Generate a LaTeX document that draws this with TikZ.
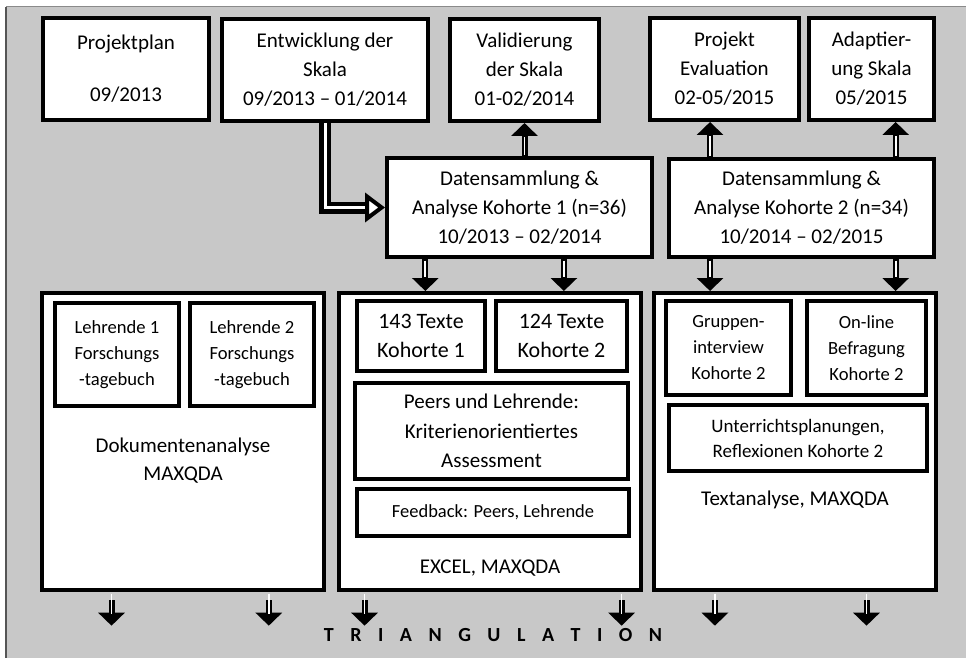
\documentclass[tikz,border=0pt]{standalone}
\usepackage{fontspec}
\setmainfont{Carlito}
\usetikzlibrary{arrows.meta,positioning,calc}
\definecolor{panel}{HTML}{C8C8C8}
\definecolor{rimdark}{HTML}{555555}
\definecolor{rimlight}{HTML}{8A8A8A}
\tikzset{
  boxsize/.style 2 args={minimum width=#1, minimum height=#2},
  phasebox/.style={draw, line width=4pt, fill=white, align=center, inner sep=1pt,
    font=\fontsize{21}{29}\selectfont},
  groupbox/.style={draw, line width=4pt, fill=white},
  sourcebox/.style={draw, line width=3.5pt, fill=white, align=center, inner sep=1pt,
    font=\fontsize{18.6}{26}\selectfont},
  grouplabel/.style={align=center, font=\fontsize{21}{28}\selectfont},
  blockarrow/.style={line width=6pt, -{Triangle[length=13pt, width=26pt]},
    postaction={draw=white, line width=1.8pt, -, shorten >=14pt, shorten <=1.5pt}},
  bigarrow/.style={line width=4.5pt, double=white, double distance=3pt,
    -{Triangle[open, length=20pt, width=29pt, line width=4pt, fill=white]}},
}

\begin{document}
\begin{tikzpicture}[x=1pt, y=-1pt]
\useasboundingbox (0,0) rectangle (966,658);
\fill[panel] (6,7) rectangle (966,658);
\draw[rimlight, line width=1pt] (6,7) -- (966,7);
\draw[rimdark, line width=1.5pt] (6,7) -- (6,658);

% Phases along the top.
\node[phasebox, boxsize={166pt}{102pt}] (plan) at (126,69) {Projektplan\\[23pt]09/2013};
\node[phasebox, boxsize={206pt}{102pt}] (entw) at (325,70) {Entwicklung der\\Skala\\09/2013 -- 01/2014};
\node[phasebox, boxsize={149pt}{102pt}] (valid) at (524.5,70) {Validierung\\der Skala\\01-02/2014};
\node[phasebox, boxsize={149pt}{102pt}] (eval) at (724.5,69) {Projekt\\Evaluation\\02-05/2015};
\node[phasebox, boxsize={125pt}{102pt}] (adapt) at (871.5,69) {Adaptier-\\ung Skala\\05/2015};

% Data collection per cohort.
\node[phasebox, boxsize={265pt}{99pt}] (dat1) at (519.5,207.5) {Datensammlung \&\\Analyse Kohorte 1 (n=36)\\10/2013 -- 02/2014};
\node[phasebox, boxsize={265pt}{98pt}] (dat2) at (801.5,208) {Datensammlung \&\\Analyse Kohorte 2 (n=34)\\10/2014 -- 02/2015};

% Groups of sources.
\node[groupbox, boxsize={282pt}{297pt}] (docs) at (183,441.5) {};
\node[groupbox, boxsize={302pt}{297pt}] (texts) at (490,441.5) {};
\node[groupbox, boxsize={282pt}{297pt}] (inter) at (795,441.5) {};

\node[sourcebox, boxsize={124pt}{103pt}] (leh1) at (117,354.5) {Lehrende 1\\Forschungs\\-tagebuch};
\node[sourcebox, boxsize={124pt}{103pt}] (leh2) at (252,354.5) {Lehrende 2\\Forschungs\\-tagebuch};
\node[grouplabel] (docslbl) at (183,461) {Dokumentenanalyse\\MAXQDA};

\node[sourcebox, boxsize={128pt}{70pt}, font=\fontsize{22}{29}\selectfont] (tx1) at (421,336) {143 Texte\\Kohorte 1};
\node[sourcebox, boxsize={131pt}{70pt}, font=\fontsize{22}{29}\selectfont] (tx2) at (561.5,336) {124 Texte\\Kohorte 2};
\node[sourcebox, boxsize={273pt}{96pt}, font=\fontsize{21}{29.5}\selectfont] (peers) at (491.5,431) {Peers und Lehrende:\\Kriterienorientiertes\\Assessment};
\node[sourcebox, boxsize={272pt}{47pt}, font=\fontsize{18.5}{22}\selectfont] (feedb) at (493,512.5) {Feedback: Peers, Lehrende};
\node[grouplabel] (textslbl) at (490,568) {EXCEL, MAXQDA};

\node[sourcebox, boxsize={125pt}{94pt}] (grp) at (728.5,348) {Gruppen-\\interview\\Kohorte 2};
\node[sourcebox, boxsize={119pt}{94pt}] (online) at (866.5,348) {On-line\\Befragung\\Kohorte 2};
\node[sourcebox, boxsize={258pt}{66pt}, font=\fontsize{19}{25}\selectfont] (unter) at (798,438) {Unterrichtsplanungen,\\Reflexionen Kohorte 2};
\node[grouplabel] (interlbl) at (795,500) {Textanalyse, MAXQDA};

\node[font=\fontsize{20}{20}\selectfont\bfseries, inner sep=0pt, anchor=base] (triang) at (493,641)
  {{\spaceskip=16.5pt T R I A N G U L A T I O N}};

% Connectors.
\draw[bigarrow] (entw.south) |- (dat1.west);
\draw[blockarrow] (valid.south |- dat1.north) -- (valid.south);

\coordinate (k2a) at ($(dat2.north west)!0.16!(dat2.north east)$);
\coordinate (k2b) at ($(dat2.north west)!0.85!(dat2.north east)$);
\draw[blockarrow] (k2a) -- (k2a |- eval.south);
\draw[blockarrow] (k2b) -- (k2b |- adapt.south);
\draw[blockarrow] (k2a |- dat2.south) -- (k2a |- inter.north);
\draw[blockarrow] (k2b |- dat2.south) -- (k2b |- inter.north);

\coordinate (k1a) at ($(dat1.south west)!0.15!(dat1.south east)$);
\coordinate (k1b) at ($(dat1.south west)!0.665!(dat1.south east)$);
\draw[blockarrow] (k1a) -- (k1a |- texts.north);
\draw[blockarrow] (k1b) -- (k1b |- texts.north);

\foreach \grp/\pos in {docs/0.25, docs/0.8, texts/0.09, texts/0.93, inter/0.22, inter/0.75} {
  \coordinate (tail) at ($(\grp.south west)!\pos!(\grp.south east)$);
  \draw[blockarrow, shorten <=8pt, shorten >=2pt] (tail) -- (tail |- triang.north);
}

\end{tikzpicture}
\end{document}
